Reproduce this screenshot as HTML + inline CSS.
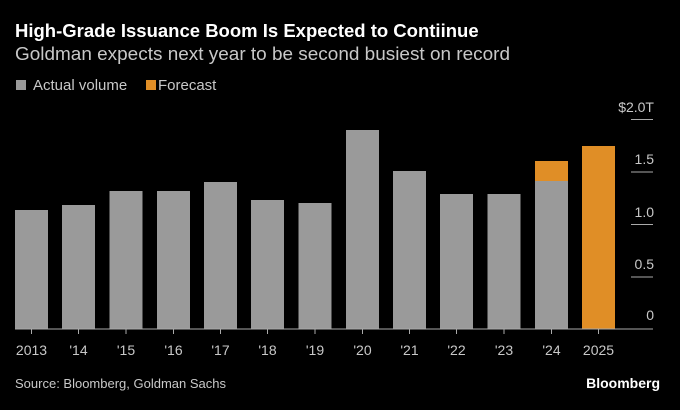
<!DOCTYPE html>
<html><head><meta charset="utf-8"><style>
body{margin:0;background:#000;width:680px;height:405px;overflow:hidden;font-family:"Liberation Sans",Arial,sans-serif}
</style></head><body>
<svg width="680" height="405" viewBox="0 0 680 405" xmlns="http://www.w3.org/2000/svg" font-family="Liberation Sans, Arial, sans-serif">
<text x="15" y="37" fill="#fff" font-size="18.5" font-weight="bold">High-Grade Issuance Boom Is Expected to Contiinue</text>
<text x="15" y="60" fill="#c8c8c8" font-size="18.5" textLength="495" lengthAdjust="spacingAndGlyphs">Goldman expects next year to be second busiest on record</text>
<rect x="16" y="80" width="10" height="10" fill="#9a9a9a"/>
<text x="33" y="90" fill="#c8c8c8" font-size="15">Actual volume</text>
<rect x="146" y="80" width="10" height="10" fill="#e08e26"/>
<text x="158" y="90" fill="#c8c8c8" font-size="15">Forecast</text>
<g fill="#9a9a9a">
<rect x="15" y="210" width="33" height="119"/>
<rect x="62" y="205" width="33" height="124"/>
<rect x="109.5" y="191" width="33" height="138"/>
<rect x="157" y="191" width="33" height="138"/>
<rect x="204" y="182" width="33" height="147"/>
<rect x="251" y="200" width="33" height="129"/>
<rect x="298.5" y="203" width="33" height="126"/>
<rect x="346" y="130" width="33" height="199"/>
<rect x="393" y="171" width="33" height="158"/>
<rect x="440" y="194" width="33" height="135"/>
<rect x="487.5" y="194" width="33" height="135"/>
<rect x="535" y="181" width="33" height="148"/>
</g>
<rect x="535" y="161" width="33" height="20" fill="#e08e26"/>
<rect x="582" y="146" width="33" height="183" fill="#e08e26"/>
<g stroke="#aaa" stroke-width="1">
<line x1="15" y1="329" x2="653" y2="329"/>
<line x1="631" y1="119.5" x2="653" y2="119.5"/>
<line x1="631" y1="172" x2="653" y2="172"/>
<line x1="631" y1="224.5" x2="653" y2="224.5"/>
<line x1="631" y1="277" x2="653" y2="277"/>
</g>
<g stroke="#aaa">
<line x1="31.5" y1="329" x2="31.5" y2="334"/><line x1="78.5" y1="329" x2="78.5" y2="334"/><line x1="126" y1="329" x2="126" y2="334"/><line x1="173.5" y1="329" x2="173.5" y2="334"/><line x1="220.5" y1="329" x2="220.5" y2="334"/><line x1="267.5" y1="329" x2="267.5" y2="334"/><line x1="315" y1="329" x2="315" y2="334"/><line x1="362.5" y1="329" x2="362.5" y2="334"/><line x1="409.5" y1="329" x2="409.5" y2="334"/><line x1="456.5" y1="329" x2="456.5" y2="334"/><line x1="504" y1="329" x2="504" y2="334"/><line x1="551.5" y1="329" x2="551.5" y2="334"/><line x1="598.5" y1="329" x2="598.5" y2="334"/>
</g>
<g fill="#c8c8c8" font-size="14" text-anchor="middle">
<text x="31.5" y="355">2013</text><text x="78.5" y="355">'14</text><text x="126" y="355">'15</text><text x="173.5" y="355">'16</text><text x="220.5" y="355">'17</text><text x="267.5" y="355">'18</text><text x="315" y="355">'19</text><text x="362.5" y="355">'20</text><text x="409.5" y="355">'21</text><text x="456.5" y="355">'22</text><text x="504" y="355">'23</text><text x="551.5" y="355">'24</text><text x="598.5" y="355">2025</text>
</g>
<g fill="#c8c8c8" font-size="14" text-anchor="end">
<text x="654" y="112">$2.0T</text><text x="654" y="164">1.5</text><text x="654" y="217">1.0</text><text x="654" y="269">0.5</text><text x="654" y="320">0</text>
</g>
<text x="15" y="388" fill="#c8c8c8" font-size="13">Source: Bloomberg, Goldman Sachs</text>
<text x="660" y="388" fill="#fff" font-size="14" font-weight="bold" text-anchor="end">Bloomberg</text>
</svg>
</body></html>
